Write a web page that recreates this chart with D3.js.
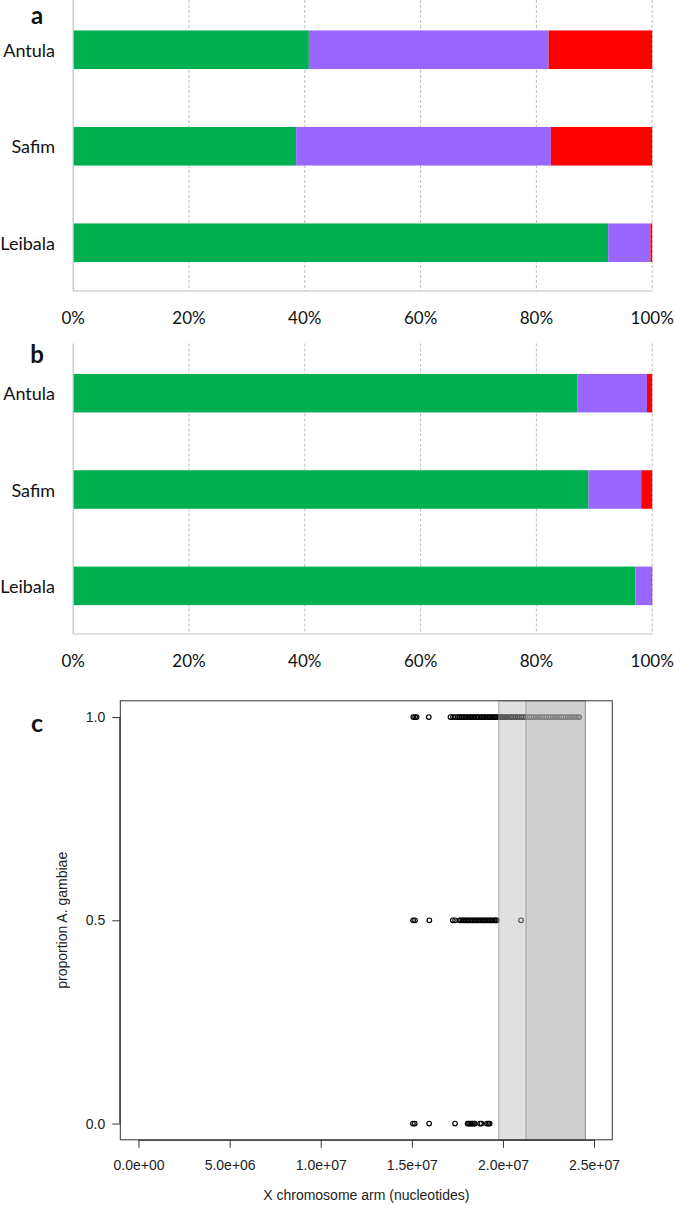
<!DOCTYPE html>
<html>
<head>
<meta charset="utf-8">
<script src="https://cdn.jsdelivr.net/npm/d3@7"></script>
<style>
  html, body { margin: 0; padding: 0; background: #fff; }
  svg { display: block; }
</style>
</head>
<body>
<svg id="chart" width="675" height="1210"></svg>
<script>
// ---------------- DATA ----------------
const categories = ["Antula", "Safim", "Leibala"];
const seriesKeys = ["green", "purple", "red"];
// panel a (percent of each population)
const aGreen  = [40.7, 38.5, 92.4];
const aPurple = [41.4, 44.0, 7.3];
const aRed    = [17.9, 17.5, 0.3];
// panel b
const bGreen  = [87.1, 89.0, 97.1];
const bPurple = [12.0, 9.1, 2.75];
const bRed    = [0.9, 1.9, 0.15];
const pctTicks = [0, 0.2, 0.4, 0.6, 0.8, 1.0];

// panel c: positions (nucleotides) of SNPs by proportion A. gambiae
const pos100 = [15080000, 15180000, 15260000, 15930000, 17120000, 17260000, 17380000,
  17520000, 17610000, 17700000, 17760000, 17850000, 17930000, 18010000, 18120000, 18190000,
  18270000, 18360000, 18440000, 18530000, 18600000, 18680000, 18790000, 18850000, 18940000,
  19020000, 19110000, 19180000, 19270000, 19350000, 19440000, 19530000, 19600000, 19690000,
  19770000, 19860000, 19950000, 20060000, 20170000, 20250000, 20380000, 20470000, 20560000,
  20680000, 20790000, 20880000, 21010000, 21120000, 21230000, 21340000, 21460000, 21570000,
  21690000, 21800000, 21930000, 22040000, 22150000, 22280000, 22390000, 22510000, 22620000,
  22740000, 22860000, 22970000, 23090000, 23210000, 23320000, 23440000, 23560000, 23670000,
  23790000, 23900000, 24020000, 24130000, 24190000];
const pos050 = [15070000, 15170000, 15960000, 17250000, 17370000,
  17620000, 17700000, 17790000, 17870000, 17950000, 18040000, 18110000, 18200000, 18290000,
  18360000, 18450000, 18530000, 18620000, 18700000, 18780000, 18870000, 18950000, 19030000,
  19120000, 19200000, 19290000, 19360000, 19450000, 19530000, 19610000, 19660000, 20990000];
const pos000 = [15060000, 15160000, 15950000, 17370000,
  18060000, 18130000, 18200000, 18270000, 18340000, 18410000, 18450000,
  18740000, 18820000, 19120000, 19200000, 19270000];
const propLevels = [1.0, 0.5, 0.0];
const shadeRegions = [[19770000, 24520000], [21260000, 24520000]];
const cXTicks = [0, 5e6, 1e7, 1.5e7, 2e7, 2.5e7];
const cYTicks = [0, 0.5, 1.0];

// ---------------- DRAW ----------------
const svg = d3.select("#chart");
const colors = { green: "#00B050", purple: "#9966FF", red: "#FF0000" };
const barFont = "Lato, 'Open Sans', sans-serif";

function barPanel(green, purple, red, top, bottom, label, labelBaseline) {
  const rows = categories.map((c, i) => ({ cat: c, green: green[i] / 100, purple: purple[i] / 100, red: red[i] / 100 }));
  const x = d3.scaleLinear().domain([0, 1]).range([73.2, 652.2]);
  const y = d3.scaleBand().domain(categories).range([top, bottom]).paddingInner(0.6).paddingOuter(0.3);
  const g = svg.append("g");

  // dashed gridlines
  g.selectAll("line.grid").data(pctTicks.filter(t => t > 0)).join("line")
    .attr("x1", d => x(d)).attr("x2", d => x(d))
    .attr("y1", top - 1.5).attr("y2", bottom)
    .attr("stroke", "#bdbdbd").attr("stroke-width", 1).attr("stroke-dasharray", "3,2");

  const stacked = d3.stack().keys(seriesKeys)(rows);
  g.selectAll("g.series").data(stacked).join("g")
    .attr("fill", d => colors[d.key])
    .selectAll("rect").data(d => d).join("rect")
    .attr("x", d => x(d[0]))
    .attr("width", d => Math.max(0, x(d[1]) - x(d[0])))
    .attr("y", d => y(d.data.cat))
    .attr("height", y.bandwidth());

  // left axis line and bottom line
  g.append("line").attr("x1", x(0)).attr("x2", x(0)).attr("y1", top - 1.5).attr("y2", bottom)
    .attr("stroke", "#bfbfbf").attr("stroke-width", 1.2);
  g.append("line").attr("x1", x(0)).attr("x2", x(1)).attr("y1", bottom).attr("y2", bottom)
    .attr("stroke", "#bfbfbf").attr("stroke-width", 1.2);

  // category labels
  g.selectAll("text.cat").data(categories).join("text")
    .attr("x", 55).attr("y", d => y(d) + y.bandwidth() / 2)
    .attr("text-anchor", "end").attr("dominant-baseline", "central")
    .attr("font-family", barFont).attr("font-size", 18).attr("fill", "#111")
    .text(d => d);

  // tick labels
  const fmt = d3.format(".0%");
  g.selectAll("text.tick").data(pctTicks).join("text")
    .attr("x", d => x(d)).attr("y", bottom + 26)
    .attr("text-anchor", "middle").attr("dominant-baseline", "central")
    .attr("font-family", barFont).attr("font-size", 17).attr("fill", "#111")
    .text(d => fmt(d));

  g.append("text").attr("x", 37).attr("y", labelBaseline).attr("text-anchor", "middle")
    .attr("font-family", barFont).attr("font-weight", "bold").attr("font-size", 24).attr("fill", "#111")
    .text(label);
}

barPanel(aGreen, aPurple, aRed, 1.5, 291, "a", 24);
barPanel(bGreen, bPurple, bRed, 345, 634, "b", 363);

// ---------------- panel c ----------------
const cLeft = 120.3, cRight = 612.3, cTop = 700.8, cBottom = 1139.8;
const xc = d3.scaleLinear().domain([-1e6, 2.6e7]).range([cLeft, cRight]);
const yc = d3.scaleLinear().domain([-0.04, 1.04]).range([cBottom, cTop]);
const gc = svg.append("g");
const cFont = "'Liberation Sans', Arial, sans-serif";
const cSize = 14;

const pts = [];
[pos100, pos050, pos000].forEach((arr, i) => arr.forEach(p => pts.push({ x: p, y: propLevels[i] })));

gc.selectAll("circle").data(pts).join("circle")
  .attr("cx", d => xc(d.x)).attr("cy", d => yc(d.y)).attr("r", 2.3)
  .attr("fill", "none").attr("stroke", "#000").attr("stroke-width", 1.2);

// translucent shading drawn over the points
gc.selectAll("rect.shade").data(shadeRegions).join("rect")
  .attr("x", d => xc(d[0])).attr("width", d => xc(d[1]) - xc(d[0]))
  .attr("y", cTop).attr("height", cBottom - cTop)
  .attr("fill", "rgb(186,186,186)").attr("fill-opacity", 0.45)
  .attr("stroke", "#8c8c8c").attr("stroke-opacity", 0.7).attr("stroke-width", 1);

gc.append("rect").attr("x", cLeft).attr("y", cTop).attr("width", cRight - cLeft).attr("height", cBottom - cTop)
  .attr("fill", "none").attr("stroke", "#333").attr("stroke-width", 1);

function expFmt(v) {
  const s = v.toExponential(1);
  const [m, e] = s.split("e");
  const sign = e[0];
  const digits = e.slice(1).padStart(2, "0");
  return m + "e" + sign + digits;
}

const xAxis = d3.axisBottom(xc).tickValues(cXTicks).tickFormat(expFmt).tickSizeOuter(0).tickSize(8).tickPadding(12);
const gx = gc.append("g").attr("transform", `translate(0,${cBottom})`).call(xAxis);
gx.select(".domain").attr("d", `M${xc(0)},0.5H${xc(2.5e7)}`).attr("stroke", "#333");
gx.selectAll(".tick line").attr("stroke", "#333");
gx.selectAll("text").attr("font-family", cFont).attr("font-size", cSize).attr("fill", "#222");

const yAxis = d3.axisLeft(yc).tickValues(cYTicks).tickFormat(d3.format(".1f")).tickSizeOuter(0).tickSize(8).tickPadding(7);
const gy = gc.append("g").attr("transform", `translate(${cLeft},0)`).call(yAxis);
gy.select(".domain").attr("d", `M-0.5,${yc(0)}V${yc(1)}`).attr("stroke", "#333");
gy.selectAll(".tick line").attr("stroke", "#333");
gy.selectAll("text").attr("font-family", cFont).attr("font-size", cSize).attr("fill", "#222");

gc.append("text").attr("x", (cLeft + cRight) / 2).attr("y", 1200).attr("text-anchor", "middle")
  .attr("font-family", cFont).attr("font-size", cSize).attr("fill", "#222")
  .text("X chromosome arm (nucleotides)");
gc.append("text").attr("transform", `translate(67,${yc(0.5)}) rotate(-90)`).attr("text-anchor", "middle")
  .attr("font-family", cFont).attr("font-size", cSize).attr("fill", "#222")
  .text("proportion A. gambiae");

gc.append("text").attr("x", 37).attr("y", 732).attr("text-anchor", "middle")
  .attr("font-family", barFont).attr("font-weight", "bold").attr("font-size", 25).attr("fill", "#111")
  .text("c");
</script>
</body>
</html>
